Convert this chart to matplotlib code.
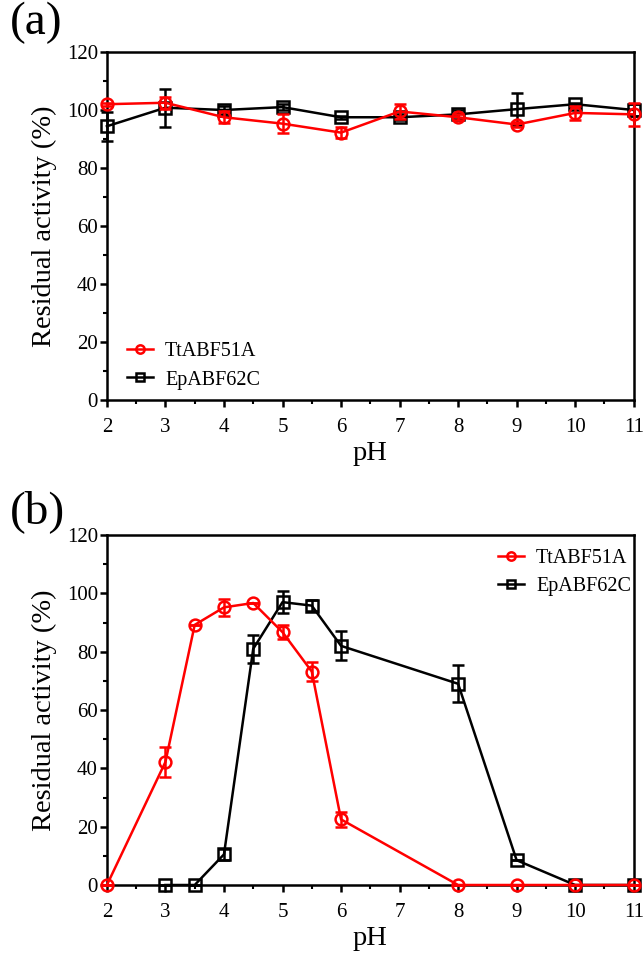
import numpy as np
import matplotlib
matplotlib.use("Agg")
import matplotlib.pyplot as plt
from matplotlib.ticker import MultipleLocator
from matplotlib.lines import Line2D

plt.rcParams['font.family'] = ['Liberation Serif', 'DejaVu Serif']

# panel (a): pH stability
ph_a = [2, 3, 4, 5, 6, 7, 8, 9, 10, 11]
tt_a = [102, 102.5, 97.5, 95.3, 92.2, 99.5, 97.5, 95, 99, 98.5]
tt_a_err = [0.5, 2, 2, 3.3, 2, 2.5, 1, 1, 2.5, 4]
ep_a = [94.4, 100.8, 100, 101, 97.5, 97.5, 98.5, 100.3, 102, 100]
ep_a_err = [5, 6.5, 1.5, 1, 0.5, 1, 1.5, 5.5, 0.5, 2]

# panel (b): pH optimum
ph_tt_b = [2, 3, 3.5, 4, 4.5, 5, 5.5, 6, 8, 9, 10, 11]
tt_b = [0, 42.2, 89.2, 95.2, 96.7, 86.7, 73.2, 22.5, 0, 0, 0, 0]
tt_b_err = [0, 5, 0, 2.9, 0, 2.5, 3.4, 2.7, 0, 0, 0, 0]
ph_ep_b = [3, 3.5, 4, 4.5, 5, 5.5, 6, 8, 9, 10, 11]
ep_b = [0, 0, 10.5, 81, 97, 95.8, 82, 69, 8.5, 0, 0]
ep_b_err = [0, 0, 2, 4.8, 3.8, 2, 5, 6.3, 0, 0, 0]

names = ['TtABF51A', 'EpABF62C']
colors = ['#ff0000', 'black']
markers = ['o', 's']

fig = plt.figure(figsize=(6.44, 9.58), dpi=100)
ax1 = fig.add_axes([0.166, 0.5825, 0.818, 0.3632])
ax2 = fig.add_axes([0.166, 0.0762, 0.818, 0.3653])

def draw(ax, xt, yt, et, xe, ye, ee):
    ax.errorbar(xt, yt, yerr=et, color=colors[0], marker=markers[0], ms=8.5, mfc='none',
                mew=1.8, lw=1.8, capsize=4, capthick=1.8, elinewidth=1.8, zorder=3,
                clip_on=False)
    ax.errorbar(xe, ye, yerr=ee, color=colors[1], marker=markers[1], ms=8, mfc='none',
                mew=1.8, lw=1.8, capsize=4, capthick=1.8, elinewidth=1.8, zorder=2,
                clip_on=False)
    ax.set_xlim(2, 11)
    ax.set_ylim(0, 120)
    ax.xaxis.set_major_locator(MultipleLocator(1))
    ax.xaxis.set_minor_locator(MultipleLocator(0.5))
    ax.yaxis.set_major_locator(MultipleLocator(20))
    ax.yaxis.set_minor_locator(MultipleLocator(10))
    ax.tick_params(which='major', direction='out', length=5, width=1.8, labelsize=15)
    ax.tick_params(which='minor', direction='out', length=3, width=1.5)
    ax.tick_params(axis='x', pad=8)
    ax.tick_params(axis='y', pad=1.5)
    for s in ax.spines.values():
        s.set_linewidth(1.8)
    ax.set_xlabel('pH', fontsize=20.5, labelpad=3)
    ax.set_ylabel('Residual activity (%)', fontsize=20.5, labelpad=7)

draw(ax1, ph_a, tt_a, tt_a_err, ph_a, ep_a, ep_a_err)
draw(ax2, ph_tt_b, tt_b, tt_b_err, ph_ep_b, ep_b, ep_b_err)

handles = [Line2D([], [], color=c, marker=m, ms=6, mfc='none', mew=1.8, lw=1.8)
           for c, m in zip(colors, markers)]

ax1.legend(handles, names, loc='lower left', frameon=False, fontsize=14.5,
           handlelength=1.3, handletextpad=0.6, borderpad=0, labelspacing=0.45,
           bbox_to_anchor=(0.038, 0.03), borderaxespad=0)
ax2.legend(handles, names, loc='upper right', frameon=False, fontsize=14.5,
           handlelength=1.3, handletextpad=0.6, borderpad=0, labelspacing=0.45,
           bbox_to_anchor=(0.995, 0.96), borderaxespad=0)

fig.text(0.015, 0.998, '(a)', fontsize=34, va='top', ha='left')
fig.text(0.015, 0.488, '(b)', fontsize=34, va='top', ha='left')

fig.savefig('out.png', dpi=100)
